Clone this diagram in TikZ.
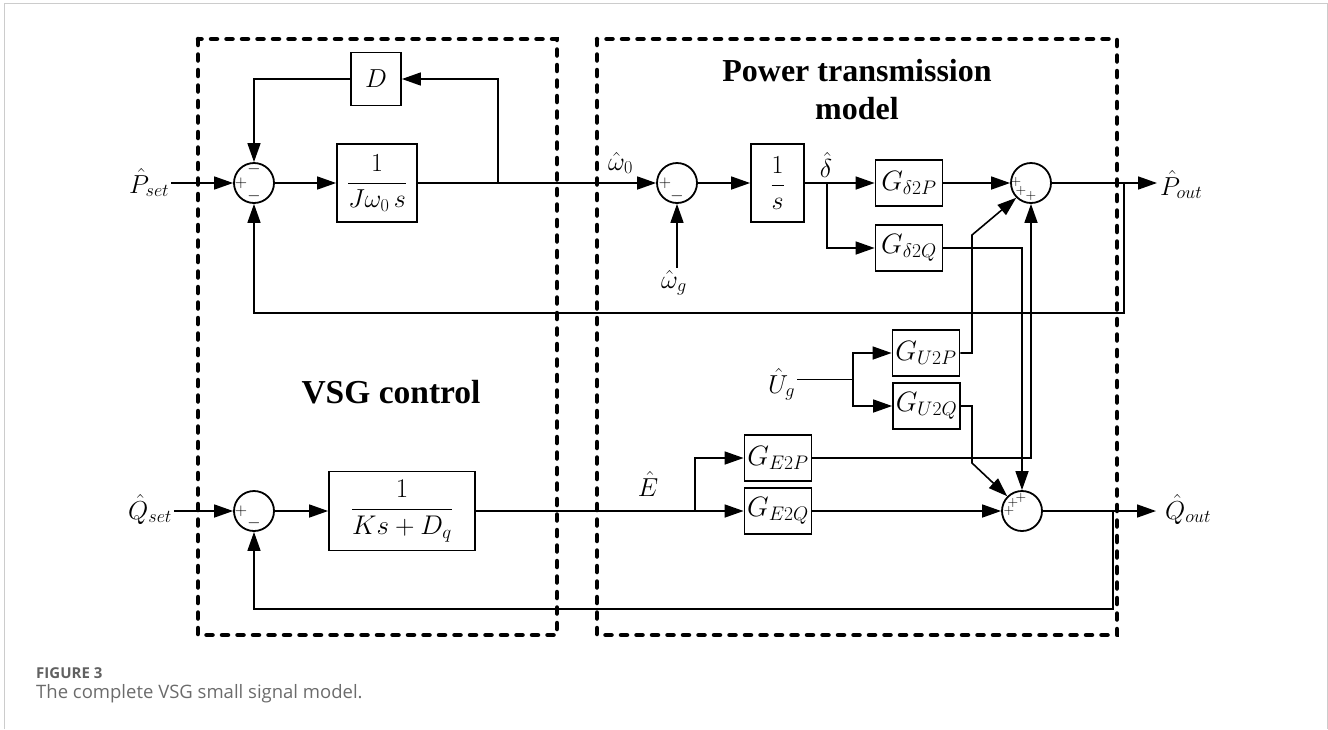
\RequirePackage{fix-cm}
\documentclass[tikz,border=0pt]{standalone}
\usepackage{fontspec}
\setmainfont{Liberation Serif}
\newfontfamily\capfamily{Open Sans}
\usetikzlibrary{arrows.meta}
\newcommand\dmfont{\fontsize{26}{30}\selectfont}
\newcommand\dkfont{\fontsize{27}{30}\selectfont}
\newcommand\dgfont{\fontsize{28}{32}\selectfont}
\newcommand\dsgnfont{\fontsize{17}{20}\selectfont}
\newcommand\dpsfont{\fontsize{14}{16}\selectfont}
\newcommand\dttlfont{\fontsize{32}{38}\selectfont\bfseries}
\begin{document}
\begin{tikzpicture}[x=1pt,y=-1pt,
  ln/.style={line width=1.6pt},
  arr/.style={line width=1.6pt,-{Triangle[length=19pt,width=13pt]}},
  blk/.style={draw,line width=1.8pt,inner sep=0pt,font=\dmfont},
  gblk/.style={draw,line width=1.8pt,inner sep=0pt,minimum width=67pt,minimum height=46pt,font=\dgfont},
  sumc/.style={draw,circle,line width=1.8pt,minimum size=40pt,inner sep=0pt},
  lbl/.style={inner sep=2pt,font=\dmfont},
  sgn/.style={inner sep=0pt,font=\dsgnfont},
  psg/.style={inner sep=0pt,font=\dpsfont},
  boxdash/.style={line width=4.5pt,dash pattern=on 6pt off 9.5pt,line cap=round},
  ttl/.style={font=\dttlfont,align=center,inner sep=0pt}
]
\useasboundingbox (0,0) rectangle (1328,729);
% outer frame
\draw[black!20,line width=1pt] (4,729) -- (4,3) -- (1327,3) -- (1327,729);
% dashed regions
\draw[boxdash] (198,39) rectangle (557,635);
\draw[boxdash] (597,39) rectangle (1117,635);
\node[ttl] (ttlP) at (857,90) {Power transmission\\model};
\node[ttl,font=\fontsize{33.5}{38}\selectfont\bfseries] (ttlV) at (391,392) {VSG control};

% ---------- P channel ----------
\node[sumc] (sP1) at (254,183) {};
\node[sgn] at (241,183) {$+$};
\node[sgn] at (254,169) {$-$};
\node[sgn] at (254,196) {$-$};
\node[blk,minimum width=50pt,minimum height=53pt] (D) at (376,79) {$D$};
\node[blk,minimum width=80pt,minimum height=78pt] (J) at (377,183) {$\displaystyle\frac{1}{J\omega_0\, s}$};
\node[sumc] (sW) at (677,183) {};
\node[sgn] at (665,183) {$+$};
\node[sgn] at (677,196) {$-$};
\node[blk,minimum width=53pt,minimum height=78pt] (I) at (777.5,183) {$\displaystyle\frac{1}{s}$};
\node[gblk] (Gd2P) at (909,183) {$G_{\delta 2P}$};
\node[gblk] (Gd2Q) at (909,248) {$G_{\delta 2Q}$};
\node[sumc] (sPo) at (1031,183) {};
\node[psg] at (1016,182) {$+$};
\node[psg] at (1021,191) {$+$};
\node[psg] at (1031,196) {$+$};

\node[lbl,anchor=base west] (Pset) at (127,193) {$\hat{P}_{set}$};
\node[lbl,anchor=base west] (Pout) at (1158,195) {$\hat{P}_{out}$};
\node[lbl,anchor=base west] (w0) at (606,170) {$\hat{\omega}_0$};
\node[lbl,anchor=base west] (wg) at (659,288) {$\hat{\omega}_g$};
\node[lbl,anchor=base] (dl) at (826,177) {$\hat{\delta}$};

\coordinate (bD) at (498,183);
\coordinate (bd) at (827,183);
\coordinate (pTip) at (1157,183);
\coordinate (bPf) at (1124,183);
\coordinate (fbP) at (1124,313);
\coordinate (cU2P) at (972,235);

\draw[arr] (Pset.east |- sP1.west) -- (sP1.west);
\draw[arr] (sP1.east) -- (J.west);
\draw[arr] (J.east) -- (sW.west);
\draw[arr] (bD) |- (D.east);
\draw[arr] (D.west) -| (sP1.north);
\draw[arr] (sW.south |- wg.north) -- (sW.south);
\draw[arr] (sW.east) -- (I.west);
\draw[arr] (I.east) -- (Gd2P.west);
\draw[arr] (bd) |- (Gd2Q.west);
\draw[arr] (Gd2P.east) -- (sPo.west);
\draw[arr] (sPo.east) -- (pTip);
\draw[arr] (bPf) -- (fbP) -| (sP1.south);

% ---------- U ----------
\node[lbl,anchor=base west] (Ug) at (766,393) {$\hat{U}_g$};
\node[gblk] (GU2P) at (926,353) {$G_{U2P}$};
\node[gblk] (GU2Q) at (926.5,406) {$G_{U2Q}$};
\coordinate (bU) at (853,379.5);
\draw[ln] (Ug.east |- bU) -- (bU);
\draw[arr] (bU) |- (GU2P.west);
\draw[arr] (bU) |- (GU2Q.west);

% ---------- Q channel ----------
\node[sumc] (sQ1) at (254,511) {};
\node[sgn] at (241,511) {$+$};
\node[sgn] at (254,523) {$-$};
\node[blk,minimum width=146pt,minimum height=79pt,font=\dkfont] (K) at (402,511) {$\displaystyle\frac{1}{Ks+D_q}$};
\node[gblk] (GE2P) at (778,458) {$G_{E2P}$};
\node[gblk] (GE2Q) at (778,511) {$G_{E2Q}$};
\node[sumc] (sQo) at (1022,511) {};
\node[psg] at (1009,511) {$+$};
\node[psg] at (1013,503) {$+$};
\node[psg] at (1021,498) {$+$};

\node[lbl,anchor=base west] (Qset) at (126,519) {$\hat{Q}_{set}$};
\node[lbl,anchor=base west] (Qout) at (1163,519) {$\hat{Q}_{out}$};
\node[lbl,anchor=base] (El) at (648,496) {$\hat{E}$};

\coordinate (bE) at (695,511);
\coordinate (qTip) at (1156,511);
\coordinate (bQf) at (1113,511);
\coordinate (fbQ) at (1113,609);
\coordinate (cU2Q) at (972,463);

\draw[arr] (Qset.east |- sQ1.west) -- (sQ1.west);
\draw[arr] (sQ1.east) -- (K.west);
\draw[arr] (K.east) -- (GE2Q.west);
\draw[arr] (bE) |- (GE2P.west);
\draw[arr] (GE2Q.east) -- (sQo.west);
\draw[arr] (sQo.east) -- (qTip);
\draw[arr] (bQf) -- (fbQ) -| (sQ1.south);

% ---------- cross couplings ----------
\draw[arr] (GU2P.east) -| (cU2P) -- (sPo.south west);
\draw[arr] (GE2P.east) -| (sPo.south);
\draw[arr] (Gd2Q.east) -| (sQo.north);
\draw[arr] (GU2Q.east) -| (cU2Q) -- (sQo.north west);

% ---------- caption ----------
\node[anchor=base west,inner sep=0pt,text=black!62,font=\capfamily\bfseries\fontsize{15}{17}\selectfont] (fig) at (36,678) {FIGURE 3};
\node[anchor=base west,inner sep=0pt,text=black!58,font=\capfamily\fontsize{18.5}{21}\selectfont] (cap) at (36,698) {The complete VSG small signal model.};
\end{tikzpicture}
\end{document}
